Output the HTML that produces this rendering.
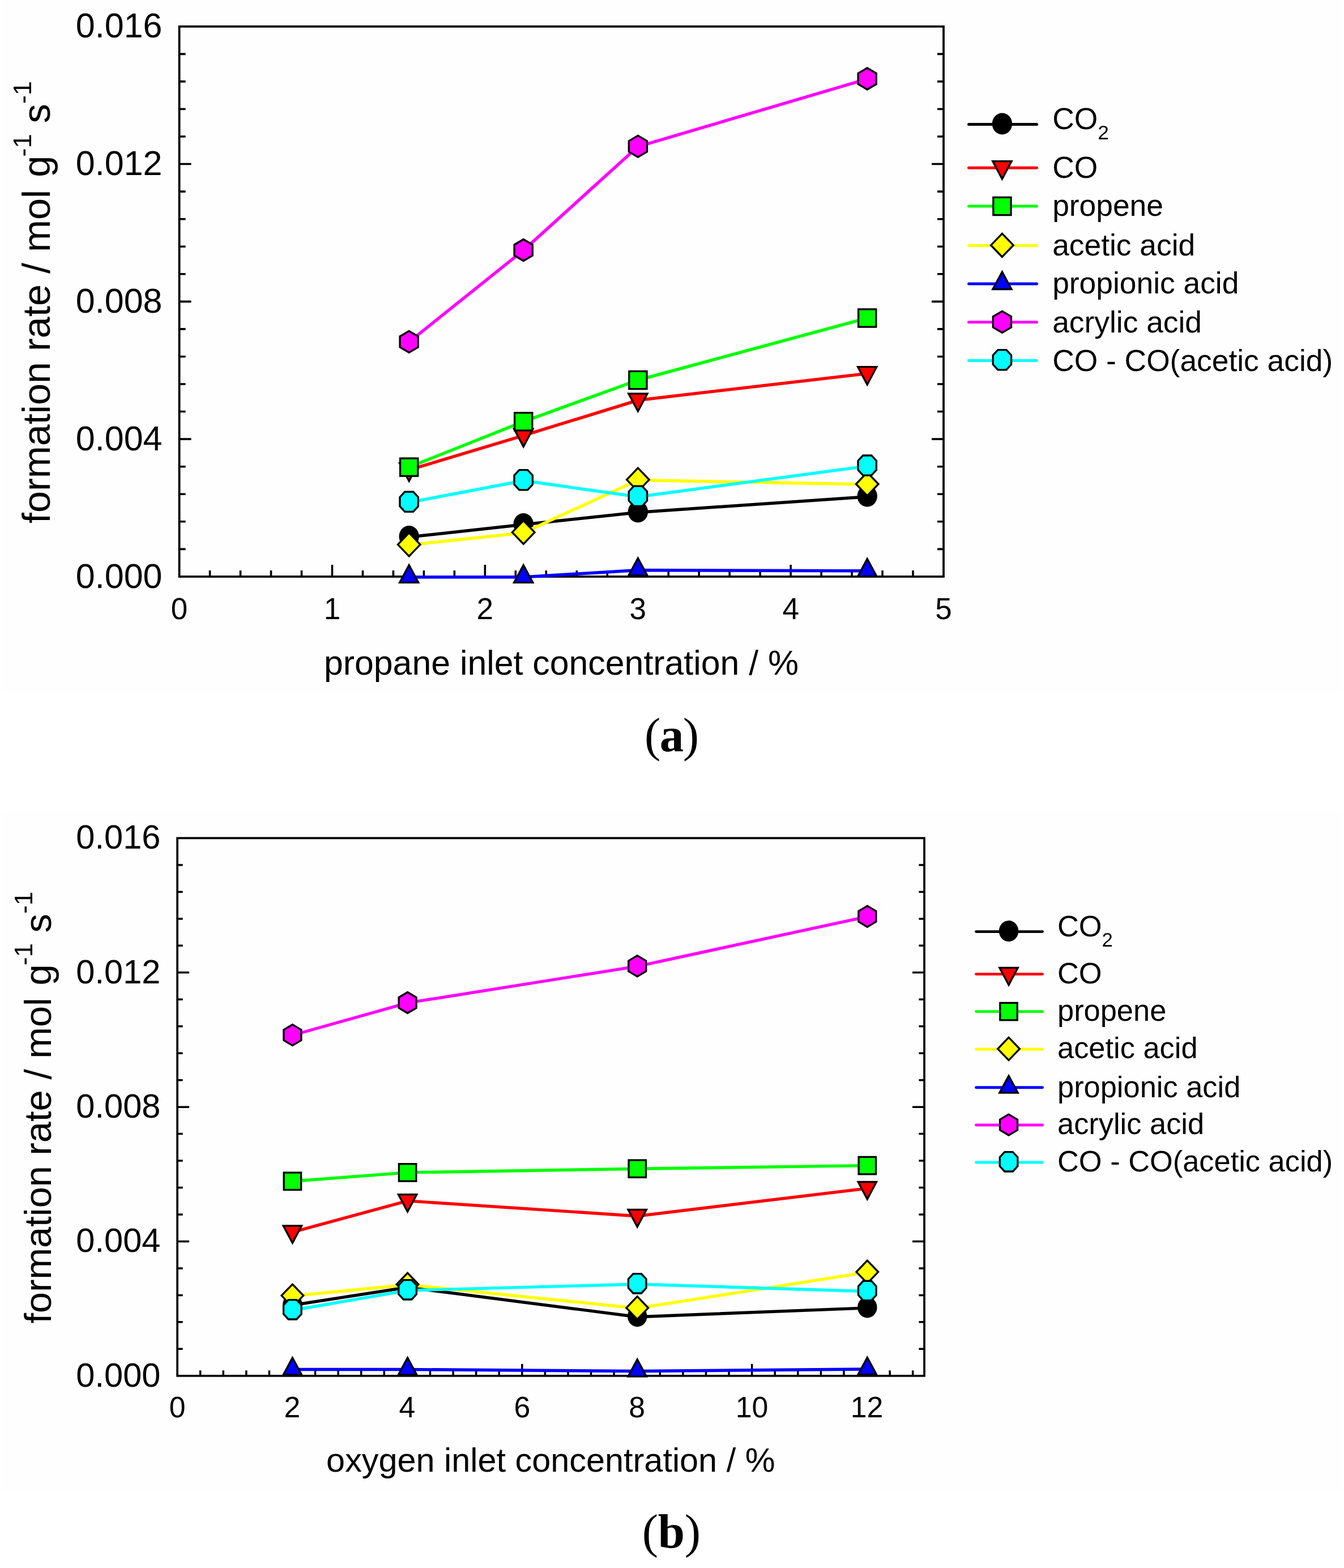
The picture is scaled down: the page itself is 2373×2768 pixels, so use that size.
<!DOCTYPE html>
<html lang="en">
<head>
<meta charset="utf-8">
<title>Formation rates vs. inlet concentration</title>
<style>
html,body{margin:0;padding:0;background:#fff;}
body{width:2373px;height:2768px;overflow:hidden;}
svg{display:block;}
svg text{font-family:'Liberation Sans', Arial, Helvetica, sans-serif;fill:#000;}
</style>
</head>
<body>
<svg width="2373" height="2768" viewBox="0 0 2373 2768">
<rect width="2373" height="2768" fill="#fff"/>
<rect x="5" y="0" width="2363" height="1221" fill="#fefefe"/>
<rect x="5" y="1434" width="2363" height="1198" fill="#fefefe"/>
<g id="plot-a">
<rect x="316.6" y="46.8" width="1349.4" height="971.1" fill="none" stroke="#000" stroke-width="3.8"/>
<path d="M370.58 1017.9v-11M424.55 1017.9v-11M478.53 1017.9v-11M532.5 1017.9v-11M586.48 1017.9v-21M640.46 1017.9v-11M694.43 1017.9v-11M748.41 1017.9v-11M802.38 1017.9v-11M856.36 1017.9v-21M910.34 1017.9v-11M964.31 1017.9v-11M1018.29 1017.9v-11M1072.26 1017.9v-11M1126.24 1017.9v-21M1180.22 1017.9v-11M1234.19 1017.9v-11M1288.17 1017.9v-11M1342.14 1017.9v-11M1396.12 1017.9v-21M1450.1 1017.9v-11M1504.07 1017.9v-11M1558.05 1017.9v-11M1612.02 1017.9v-11M316.6 969.35h11M1666 969.35h-11M316.6 920.79h11M1666 920.79h-11M316.6 872.23h11M1666 872.23h-11M316.6 823.68h11M1666 823.68h-11M316.6 775.12h21M1666 775.12h-21M316.6 726.57h11M1666 726.57h-11M316.6 678.01h11M1666 678.01h-11M316.6 629.46h11M1666 629.46h-11M316.6 580.9h11M1666 580.9h-11M316.6 532.35h21M1666 532.35h-21M316.6 483.79h11M1666 483.79h-11M316.6 435.24h11M1666 435.24h-11M316.6 386.68h11M1666 386.68h-11M316.6 338.13h11M1666 338.13h-11M316.6 289.57h21M1666 289.57h-21M316.6 241.02h11M1666 241.02h-11M316.6 192.46h11M1666 192.46h-11M316.6 143.91h11M1666 143.91h-11M316.6 95.35h11M1666 95.35h-11" fill="none" stroke="#000" stroke-width="3.6"/>
<polyline points="722.2,948 924.2,926 1126.4,904.5 1531.2,876.8" fill="none" stroke="#000000" stroke-width="5.5" stroke-linejoin="round"/>
<ellipse cx="722.2" cy="947" rx="17.7" ry="19" fill="#000"/>
<ellipse cx="924.2" cy="925" rx="17.7" ry="19" fill="#000"/>
<ellipse cx="1126.4" cy="903.5" rx="17.7" ry="19" fill="#000"/>
<ellipse cx="1531.2" cy="875.8" rx="17.7" ry="19" fill="#000"/>
<polyline points="722.2,829.6 924.2,768.8 1126.4,706.5 1531.2,659.3" fill="none" stroke="#ff0000" stroke-width="5.5" stroke-linejoin="round"/>
<polygon points="705.6,818 738.8,818 722.2,849.2" fill="#ff0000" stroke="#000" stroke-width="3.3" stroke-linejoin="miter"/>
<polygon points="907.6,757.2 940.8,757.2 924.2,788.4" fill="#ff0000" stroke="#000" stroke-width="3.3" stroke-linejoin="miter"/>
<polygon points="1109.8,694.9 1143,694.9 1126.4,726.1" fill="#ff0000" stroke="#000" stroke-width="3.3" stroke-linejoin="miter"/>
<polygon points="1514.6,647.7 1547.8,647.7 1531.2,678.9" fill="#ff0000" stroke="#000" stroke-width="3.3" stroke-linejoin="miter"/>
<polyline points="722.2,824.7 924.2,744.3 1126.4,671 1531.2,561.5" fill="none" stroke="#00ff00" stroke-width="5.5" stroke-linejoin="round"/>
<rect x="706.6" y="809.1" width="31.2" height="31.2" fill="#00ff00" stroke="#000" stroke-width="3.3" stroke-linejoin="miter"/>
<rect x="908.6" y="728.7" width="31.2" height="31.2" fill="#00ff00" stroke="#000" stroke-width="3.3" stroke-linejoin="miter"/>
<rect x="1110.8" y="655.4" width="31.2" height="31.2" fill="#00ff00" stroke="#000" stroke-width="3.3" stroke-linejoin="miter"/>
<rect x="1515.6" y="545.9" width="31.2" height="31.2" fill="#00ff00" stroke="#000" stroke-width="3.3" stroke-linejoin="miter"/>
<polyline points="722.2,962 924.2,940.4 1126.4,847.5 1531.2,855.2" fill="none" stroke="#ffff00" stroke-width="5.5" stroke-linejoin="round"/>
<polygon points="722.2,940.7 742,961.3 722.2,981.9 702.4,961.3" fill="#ffff00" stroke="#000" stroke-width="3.3" stroke-linejoin="miter"/>
<polygon points="924.2,919.1 944,939.7 924.2,960.3 904.4,939.7" fill="#ffff00" stroke="#000" stroke-width="3.3" stroke-linejoin="miter"/>
<polygon points="1126.4,826.2 1146.2,846.8 1126.4,867.4 1106.6,846.8" fill="#ffff00" stroke="#000" stroke-width="3.3" stroke-linejoin="miter"/>
<polygon points="1531.2,833.9 1551,854.5 1531.2,875.1 1511.4,854.5" fill="#ffff00" stroke="#000" stroke-width="3.3" stroke-linejoin="miter"/>
<polyline points="722.2,1018.8 924.2,1018.8 1126.4,1006.4 1531.2,1007.8" fill="none" stroke="#0000ff" stroke-width="5.5" stroke-linejoin="round"/>
<polygon points="722.2,997.6 738.8,1028.4 705.6,1028.4" fill="#0000ff" stroke="#000" stroke-width="3.3" stroke-linejoin="miter"/>
<polygon points="924.2,997.6 940.8,1028.4 907.6,1028.4" fill="#0000ff" stroke="#000" stroke-width="3.3" stroke-linejoin="miter"/>
<polygon points="1126.4,985.2 1143,1016 1109.8,1016" fill="#0000ff" stroke="#000" stroke-width="3.3" stroke-linejoin="miter"/>
<polygon points="1531.2,986.6 1547.8,1017.4 1514.6,1017.4" fill="#0000ff" stroke="#000" stroke-width="3.3" stroke-linejoin="miter"/>
<polyline points="722.2,603.7 924.2,441.9 1126.4,258.8 1531.2,139.4" fill="none" stroke="#ff00ff" stroke-width="5.5" stroke-linejoin="round"/>
<polygon points="722.2,584.3 738.3,593.8 738.3,612.8 722.2,622.3 706.1,612.8 706.1,593.8" fill="#ff00ff" stroke="#000" stroke-width="3.3" stroke-linejoin="miter"/>
<polygon points="924.2,422.5 940.3,432 940.3,451 924.2,460.5 908.1,451 908.1,432" fill="#ff00ff" stroke="#000" stroke-width="3.3" stroke-linejoin="miter"/>
<polygon points="1126.4,239.4 1142.5,248.9 1142.5,267.9 1126.4,277.4 1110.3,267.9 1110.3,248.9" fill="#ff00ff" stroke="#000" stroke-width="3.3" stroke-linejoin="miter"/>
<polygon points="1531.2,120 1547.3,129.5 1547.3,148.5 1531.2,158 1515.1,148.5 1515.1,129.5" fill="#ff00ff" stroke="#000" stroke-width="3.3" stroke-linejoin="miter"/>
<polyline points="722.2,887 924.2,848.5 1126.4,877 1531.2,822.8" fill="none" stroke="#00ffff" stroke-width="5.5" stroke-linejoin="round"/>
<polygon points="714.75,868.2 729.65,868.2 738.4,877.7 738.4,893.9 729.65,903.4 714.75,903.4 706,893.9 706,877.7" fill="#00ffff" stroke="#000" stroke-width="3.3" stroke-linejoin="miter"/>
<polygon points="916.75,829.7 931.65,829.7 940.4,839.2 940.4,855.4 931.65,864.9 916.75,864.9 908,855.4 908,839.2" fill="#00ffff" stroke="#000" stroke-width="3.3" stroke-linejoin="miter"/>
<polygon points="1118.95,858.2 1133.85,858.2 1142.6,867.7 1142.6,883.9 1133.85,893.4 1118.95,893.4 1110.2,883.9 1110.2,867.7" fill="#00ffff" stroke="#000" stroke-width="3.3" stroke-linejoin="miter"/>
<polygon points="1523.75,804 1538.65,804 1547.4,813.5 1547.4,829.7 1538.65,839.2 1523.75,839.2 1515,829.7 1515,813.5" fill="#00ffff" stroke="#000" stroke-width="3.3" stroke-linejoin="miter"/>
<text x="286.5" y="1037.5" font-size="61" text-anchor="end">0.000</text>
<text x="286.5" y="794.73" font-size="61" text-anchor="end">0.004</text>
<text x="286.5" y="551.95" font-size="61" text-anchor="end">0.008</text>
<text x="286.5" y="309.17" font-size="61" text-anchor="end">0.012</text>
<text x="286.5" y="66.4" font-size="61" text-anchor="end">0.016</text>
<text x="316.6" y="1093" font-size="53" text-anchor="middle">0</text>
<text x="586.48" y="1093" font-size="53" text-anchor="middle">1</text>
<text x="856.36" y="1093" font-size="53" text-anchor="middle">2</text>
<text x="1126.24" y="1093" font-size="53" text-anchor="middle">3</text>
<text x="1396.12" y="1093" font-size="53" text-anchor="middle">4</text>
<text x="1666" y="1093" font-size="53" text-anchor="middle">5</text>
<text x="991" y="1191.3" font-size="60.8" text-anchor="middle">propane inlet concentration / %</text>
<text transform="translate(88.2 924) rotate(-90)" font-size="68.4">formation rate / mol<tspan dx="3"> g</tspan><tspan font-size="45.14" dx="-1.8" dy="-33.52">-1</tspan><tspan dx="0" dy="33.52"> s</tspan><tspan font-size="45.14" dx="0" dy="-33.52">-1</tspan></text>
<line x1="1710.5" y1="219.5" x2="1830.5" y2="219.5" stroke="#000000" stroke-width="5" stroke-linecap="round"/>
<ellipse cx="1769.4" cy="218.5" rx="17.7" ry="19" fill="#000"/>
<text x="1858.2" y="227.6" font-size="53.35">CO<tspan font-size="35.21" dy="18">2</tspan></text>
<line x1="1710.5" y1="296.3" x2="1830.5" y2="296.3" stroke="#ff0000" stroke-width="5" stroke-linecap="round"/>
<polygon points="1752.8,284.7 1786,284.7 1769.4,315.9" fill="#ff0000" stroke="#000" stroke-width="3.3" stroke-linejoin="miter"/>
<text x="1858.2" y="313.8" font-size="53.35">CO</text>
<line x1="1710.5" y1="364" x2="1830.5" y2="364" stroke="#00ff00" stroke-width="5" stroke-linecap="round"/>
<rect x="1753.8" y="348.4" width="31.2" height="31.2" fill="#00ff00" stroke="#000" stroke-width="3.3" stroke-linejoin="miter"/>
<text x="1858.2" y="381.4" font-size="53.35">propene</text>
<line x1="1710.5" y1="433.6" x2="1830.5" y2="433.6" stroke="#ffff00" stroke-width="5" stroke-linecap="round"/>
<polygon points="1769.4,412.3 1789.2,432.9 1769.4,453.5 1749.6,432.9" fill="#ffff00" stroke="#000" stroke-width="3.3" stroke-linejoin="miter"/>
<text x="1858.2" y="450.7" font-size="53.35">acetic acid</text>
<line x1="1710.5" y1="501.1" x2="1830.5" y2="501.1" stroke="#0000ff" stroke-width="5" stroke-linecap="round"/>
<polygon points="1769.4,479.9 1786,510.7 1752.8,510.7" fill="#0000ff" stroke="#000" stroke-width="3.3" stroke-linejoin="miter"/>
<text x="1858.2" y="518.2" font-size="53.35">propionic acid</text>
<line x1="1710.5" y1="568.7" x2="1830.5" y2="568.7" stroke="#ff00ff" stroke-width="5" stroke-linecap="round"/>
<polygon points="1769.4,549.3 1785.5,558.8 1785.5,577.8 1769.4,587.3 1753.3,577.8 1753.3,558.8" fill="#ff00ff" stroke="#000" stroke-width="3.3" stroke-linejoin="miter"/>
<text x="1858.2" y="586.5" font-size="53.35">acrylic acid</text>
<line x1="1710.5" y1="636.5" x2="1830.5" y2="636.5" stroke="#00ffff" stroke-width="5" stroke-linecap="round"/>
<polygon points="1761.95,617.7 1776.85,617.7 1785.6,627.2 1785.6,643.4 1776.85,652.9 1761.95,652.9 1753.2,643.4 1753.2,627.2" fill="#00ffff" stroke="#000" stroke-width="3.3" stroke-linejoin="miter"/>
<text x="1858.2" y="655.2" font-size="53.35">CO - CO(acetic acid)</text>
<text x="1186" y="1325.6" font-size="85" text-anchor="middle" style="font-family:'Liberation Serif', 'DejaVu Serif', serif">(<tspan font-weight="bold" dx="-1.6">a</tspan><tspan dx="-1.6">)</tspan></text>
</g>
<g id="plot-b">
<rect x="313.1" y="1479.5" width="1318.9" height="949.3" fill="none" stroke="#000" stroke-width="3.7"/>
<path d="M353.68 2428.8v-9.6M394.26 2428.8v-9.6M434.84 2428.8v-9.6M475.43 2428.8v-9.6M516.01 2428.8v-21M556.59 2428.8v-9.6M597.17 2428.8v-9.6M637.75 2428.8v-9.6M678.33 2428.8v-9.6M718.92 2428.8v-21M759.5 2428.8v-9.6M800.08 2428.8v-9.6M840.66 2428.8v-9.6M881.24 2428.8v-9.6M921.82 2428.8v-21M962.4 2428.8v-9.6M1002.99 2428.8v-9.6M1043.57 2428.8v-9.6M1084.15 2428.8v-9.6M1124.73 2428.8v-21M1165.31 2428.8v-9.6M1205.89 2428.8v-9.6M1246.48 2428.8v-9.6M1287.06 2428.8v-9.6M1327.64 2428.8v-21M1368.22 2428.8v-9.6M1408.8 2428.8v-9.6M1449.38 2428.8v-9.6M1489.96 2428.8v-9.6M1530.55 2428.8v-21M1571.13 2428.8v-9.6M1611.71 2428.8v-9.6M313.1 2381.34h9.6M1632 2381.34h-9.6M313.1 2333.87h9.6M1632 2333.87h-9.6M313.1 2286.41h9.6M1632 2286.41h-9.6M313.1 2238.94h9.6M1632 2238.94h-9.6M313.1 2191.48h21M1632 2191.48h-21M313.1 2144.01h9.6M1632 2144.01h-9.6M313.1 2096.55h9.6M1632 2096.55h-9.6M313.1 2049.08h9.6M1632 2049.08h-9.6M313.1 2001.62h9.6M1632 2001.62h-9.6M313.1 1954.15h21M1632 1954.15h-21M313.1 1906.68h9.6M1632 1906.68h-9.6M313.1 1859.22h9.6M1632 1859.22h-9.6M313.1 1811.76h9.6M1632 1811.76h-9.6M313.1 1764.29h9.6M1632 1764.29h-9.6M313.1 1716.83h21M1632 1716.83h-21M313.1 1669.36h9.6M1632 1669.36h-9.6M313.1 1621.89h9.6M1632 1621.89h-9.6M313.1 1574.43h9.6M1632 1574.43h-9.6M313.1 1526.96h9.6M1632 1526.96h-9.6" fill="none" stroke="#000" stroke-width="3.5"/>
<polyline points="516.4,2304 719.6,2272.5 1125.2,2324.7 1531.3,2308.9" fill="none" stroke="#000000" stroke-width="5.4" stroke-linejoin="round"/>
<ellipse cx="516.4" cy="2303.03" rx="17.26" ry="18.52" fill="#000"/>
<ellipse cx="719.6" cy="2271.53" rx="17.26" ry="18.52" fill="#000"/>
<ellipse cx="1125.2" cy="2323.72" rx="17.26" ry="18.52" fill="#000"/>
<ellipse cx="1531.3" cy="2307.93" rx="17.26" ry="18.52" fill="#000"/>
<polyline points="516.4,2175.1 719.6,2119.9 1125.2,2146.7 1531.3,2097.8" fill="none" stroke="#ff0000" stroke-width="5.4" stroke-linejoin="round"/>
<polygon points="500.21,2163.79 532.59,2163.79 516.4,2194.21" fill="#ff0000" stroke="#000" stroke-width="3.3" stroke-linejoin="miter"/>
<polygon points="703.41,2108.59 735.79,2108.59 719.6,2139.01" fill="#ff0000" stroke="#000" stroke-width="3.3" stroke-linejoin="miter"/>
<polygon points="1109.02,2135.39 1141.38,2135.39 1125.2,2165.81" fill="#ff0000" stroke="#000" stroke-width="3.3" stroke-linejoin="miter"/>
<polygon points="1515.12,2086.49 1547.48,2086.49 1531.3,2116.91" fill="#ff0000" stroke="#000" stroke-width="3.3" stroke-linejoin="miter"/>
<polyline points="516.4,2085.2 719.6,2069.9 1125.2,2063.2 1531.3,2057.6" fill="none" stroke="#00ff00" stroke-width="5.4" stroke-linejoin="round"/>
<rect x="501.19" y="2069.99" width="30.42" height="30.42" fill="#00ff00" stroke="#000" stroke-width="3.3" stroke-linejoin="miter"/>
<rect x="704.39" y="2054.69" width="30.42" height="30.42" fill="#00ff00" stroke="#000" stroke-width="3.3" stroke-linejoin="miter"/>
<rect x="1109.99" y="2047.99" width="30.42" height="30.42" fill="#00ff00" stroke="#000" stroke-width="3.3" stroke-linejoin="miter"/>
<rect x="1516.09" y="2042.39" width="30.42" height="30.42" fill="#00ff00" stroke="#000" stroke-width="3.3" stroke-linejoin="miter"/>
<polyline points="516.4,2287.8 719.6,2268 1125.2,2309.5 1531.3,2246" fill="none" stroke="#ffff00" stroke-width="5.4" stroke-linejoin="round"/>
<polygon points="516.4,2267.03 535.7,2287.12 516.4,2307.2 497.09,2287.12" fill="#ffff00" stroke="#000" stroke-width="3.3" stroke-linejoin="miter"/>
<polygon points="719.6,2247.23 738.9,2267.32 719.6,2287.4 700.3,2267.32" fill="#ffff00" stroke="#000" stroke-width="3.3" stroke-linejoin="miter"/>
<polygon points="1125.2,2288.73 1144.51,2308.82 1125.2,2328.9 1105.89,2308.82" fill="#ffff00" stroke="#000" stroke-width="3.3" stroke-linejoin="miter"/>
<polygon points="1531.3,2225.23 1550.61,2245.32 1531.3,2265.4 1511.99,2245.32" fill="#ffff00" stroke="#000" stroke-width="3.3" stroke-linejoin="miter"/>
<polyline points="516.4,2417.5 719.6,2417.5 1125.2,2420.5 1531.3,2417" fill="none" stroke="#0000ff" stroke-width="5.4" stroke-linejoin="round"/>
<polygon points="516.4,2396.83 532.59,2426.86 500.21,2426.86" fill="#0000ff" stroke="#000" stroke-width="3.3" stroke-linejoin="miter"/>
<polygon points="719.6,2396.83 735.79,2426.86 703.41,2426.86" fill="#0000ff" stroke="#000" stroke-width="3.3" stroke-linejoin="miter"/>
<polygon points="1125.2,2399.83 1141.38,2429.86 1109.02,2429.86" fill="#0000ff" stroke="#000" stroke-width="3.3" stroke-linejoin="miter"/>
<polygon points="1531.3,2396.33 1547.48,2426.36 1515.12,2426.36" fill="#0000ff" stroke="#000" stroke-width="3.3" stroke-linejoin="miter"/>
<polyline points="516.4,1827.5 719.6,1770.4 1125.2,1705.8 1531.3,1618.2" fill="none" stroke="#ff00ff" stroke-width="5.4" stroke-linejoin="round"/>
<polygon points="516.4,1808.58 531.9,1817.85 531.9,1836.37 516.4,1845.63 500.9,1836.37 500.9,1817.85" fill="#ff00ff" stroke="#000" stroke-width="3.3" stroke-linejoin="miter"/>
<polygon points="719.6,1751.48 735.1,1760.75 735.1,1779.27 719.6,1788.54 704.1,1779.27 704.1,1760.75" fill="#ff00ff" stroke="#000" stroke-width="3.3" stroke-linejoin="miter"/>
<polygon points="1125.2,1686.88 1140.7,1696.15 1140.7,1714.67 1125.2,1723.93 1109.7,1714.67 1109.7,1696.15" fill="#ff00ff" stroke="#000" stroke-width="3.3" stroke-linejoin="miter"/>
<polygon points="1531.3,1599.28 1546.8,1608.55 1546.8,1627.07 1531.3,1636.34 1515.8,1627.07 1515.8,1608.55" fill="#ff00ff" stroke="#000" stroke-width="3.3" stroke-linejoin="miter"/>
<polyline points="516.4,2313 719.6,2278 1125.2,2267 1531.3,2279.6" fill="none" stroke="#00ffff" stroke-width="5.4" stroke-linejoin="round"/>
<polygon points="509.13,2294.67 523.67,2294.67 532.19,2303.94 532.19,2319.72 523.67,2328.99 509.13,2328.99 500.6,2319.72 500.6,2303.94" fill="#00ffff" stroke="#000" stroke-width="3.3" stroke-linejoin="miter"/>
<polygon points="712.33,2259.67 726.87,2259.67 735.39,2268.94 735.39,2284.72 726.87,2293.99 712.33,2293.99 703.81,2284.72 703.81,2268.94" fill="#00ffff" stroke="#000" stroke-width="3.3" stroke-linejoin="miter"/>
<polygon points="1117.93,2248.67 1132.47,2248.67 1141,2257.94 1141,2273.72 1132.47,2282.99 1117.93,2282.99 1109.4,2273.72 1109.4,2257.94" fill="#00ffff" stroke="#000" stroke-width="3.3" stroke-linejoin="miter"/>
<polygon points="1524.03,2261.27 1538.57,2261.27 1547.1,2270.54 1547.1,2286.32 1538.57,2295.59 1524.03,2295.59 1515.5,2286.32 1515.5,2270.54" fill="#00ffff" stroke="#000" stroke-width="3.3" stroke-linejoin="miter"/>
<text x="283.5" y="2447.7" font-size="59.6" text-anchor="end">0.000</text>
<text x="283.5" y="2210.38" font-size="59.6" text-anchor="end">0.004</text>
<text x="283.5" y="1973.05" font-size="59.6" text-anchor="end">0.008</text>
<text x="283.5" y="1735.73" font-size="59.6" text-anchor="end">0.012</text>
<text x="283.5" y="1498.4" font-size="59.6" text-anchor="end">0.016</text>
<text x="313.1" y="2501.5" font-size="51.8" text-anchor="middle">0</text>
<text x="516.01" y="2501.5" font-size="51.8" text-anchor="middle">2</text>
<text x="718.92" y="2501.5" font-size="51.8" text-anchor="middle">4</text>
<text x="921.82" y="2501.5" font-size="51.8" text-anchor="middle">6</text>
<text x="1124.73" y="2501.5" font-size="51.8" text-anchor="middle">8</text>
<text x="1327.64" y="2501.5" font-size="51.8" text-anchor="middle">10</text>
<text x="1530.55" y="2501.5" font-size="51.8" text-anchor="middle">12</text>
<text x="972.3" y="2598.2" font-size="59.4" text-anchor="middle">oxygen inlet concentration / %</text>
<text transform="translate(89.5 2336.5) rotate(-90)" font-size="66.8">formation rate / mol<tspan dx="3"> g</tspan><tspan font-size="44.09" dx="-1.8" dy="-32.73">-1</tspan><tspan dx="0" dy="32.73"> s</tspan><tspan font-size="44.09" dx="0" dy="-32.73">-1</tspan></text>
<line x1="1723.5" y1="1644.6" x2="1840.5" y2="1644.6" stroke="#000000" stroke-width="4.9" stroke-linecap="round"/>
<ellipse cx="1781" cy="1643.62" rx="17.26" ry="18.52" fill="#000"/>
<text x="1867" y="1653.2" font-size="52.4">CO<tspan font-size="34.58" dy="17.6">2</tspan></text>
<line x1="1723.5" y1="1719.6" x2="1840.5" y2="1719.6" stroke="#ff0000" stroke-width="4.9" stroke-linecap="round"/>
<polygon points="1764.82,1708.29 1797.18,1708.29 1781,1738.71" fill="#ff0000" stroke="#000" stroke-width="3.3" stroke-linejoin="miter"/>
<text x="1867" y="1736.1" font-size="52.4">CO</text>
<line x1="1723.5" y1="1785.6" x2="1840.5" y2="1785.6" stroke="#00ff00" stroke-width="4.9" stroke-linecap="round"/>
<rect x="1765.79" y="1770.39" width="30.42" height="30.42" fill="#00ff00" stroke="#000" stroke-width="3.3" stroke-linejoin="miter"/>
<text x="1867" y="1801.8" font-size="52.4">propene</text>
<line x1="1723.5" y1="1852.2" x2="1840.5" y2="1852.2" stroke="#ffff00" stroke-width="4.9" stroke-linecap="round"/>
<polygon points="1781,1831.43 1800.31,1851.52 1781,1871.6 1761.69,1851.52" fill="#ffff00" stroke="#000" stroke-width="3.3" stroke-linejoin="miter"/>
<text x="1867" y="1868.4" font-size="52.4">acetic acid</text>
<line x1="1723.5" y1="1919.8" x2="1840.5" y2="1919.8" stroke="#0000ff" stroke-width="4.9" stroke-linecap="round"/>
<polygon points="1781,1899.13 1797.18,1929.16 1764.82,1929.16" fill="#0000ff" stroke="#000" stroke-width="3.3" stroke-linejoin="miter"/>
<text x="1867" y="1936.7" font-size="52.4">propionic acid</text>
<line x1="1723.5" y1="1986" x2="1840.5" y2="1986" stroke="#ff00ff" stroke-width="4.9" stroke-linecap="round"/>
<polygon points="1781,1967.08 1796.5,1976.35 1796.5,1994.87 1781,2004.13 1765.5,1994.87 1765.5,1976.35" fill="#ff00ff" stroke="#000" stroke-width="3.3" stroke-linejoin="miter"/>
<text x="1867" y="2002.4" font-size="52.4">acrylic acid</text>
<line x1="1723.5" y1="2052" x2="1840.5" y2="2052" stroke="#00ffff" stroke-width="4.9" stroke-linecap="round"/>
<polygon points="1773.73,2033.67 1788.27,2033.67 1796.8,2042.94 1796.8,2058.72 1788.27,2067.99 1773.73,2067.99 1765.2,2058.72 1765.2,2042.94" fill="#00ffff" stroke="#000" stroke-width="3.3" stroke-linejoin="miter"/>
<text x="1867" y="2068.4" font-size="52.4">CO - CO(acetic acid)</text>
<text x="1185.4" y="2731.6" font-size="85" text-anchor="middle" style="font-family:'Liberation Serif', 'DejaVu Serif', serif">(<tspan font-weight="bold" dx="-0.2">b</tspan><tspan dx="-0.2">)</tspan></text>
</g>
</svg>
</body>
</html>
